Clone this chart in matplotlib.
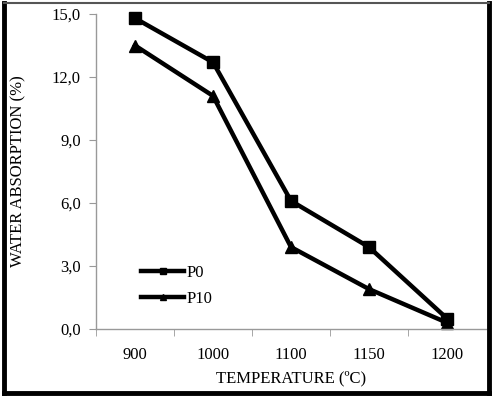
import matplotlib
matplotlib.use("Agg")
import matplotlib.pyplot as plt
from matplotlib.lines import Line2D

categories = ["900", "1000", "1100", "1150", "1200"]
p0 = [14.8, 12.7, 6.1, 3.9, 0.5]
p10 = [13.5, 11.1, 3.9, 1.9, 0.3]
yticks = [0.0, 3.0, 6.0, 9.0, 12.0, 15.0]

plt.rcParams['font.family'] = ['Liberation Serif', 'DejaVu Serif']

W, H = 492, 397
fig = plt.figure(figsize=(W/100, H/100), dpi=100)
ax = fig.add_axes([96/W, 1-329/H, 390/W, 315/H])

x = list(range(1, len(categories)+1))
ax.plot(x, p0, color='black', lw=3.2, marker='s', ms=9, label='P0', clip_on=False)
ax.plot(x, p10, color='black', lw=3.2, marker='^', ms=9, label='P10', clip_on=False)

ax.set_xlim(0.5, len(categories)+0.5)
ax.set_ylim(0, 15)
ax.set_xticks(x)
ax.set_xticklabels(categories)
ax.set_xticks([i+0.5 for i in range(0, len(categories))], minor=True)
ax.tick_params(axis='x', which='major', length=0, pad=13, labelsize=12)
ax.tick_params(axis='x', which='minor', length=5, color='#999999')
ax.set_yticks(yticks)
ax.set_yticklabels([f"{v:.1f}".replace('.', ',') for v in yticks])
ax.tick_params(axis='y', length=5, color='#999999', labelsize=12, pad=6)
for s in ['top', 'right']:
    ax.spines[s].set_visible(False)
for s in ['left', 'bottom']:
    ax.spines[s].set_color('#999999')
    ax.spines[s].set_linewidth(1)

ax.set_ylabel("WATER ABSORPTION (%)", fontsize=12, labelpad=18)
ax.set_xlabel("TEMPERATURE (ºC)", fontsize=12, labelpad=5)

leg = ax.legend(loc='lower left', bbox_to_anchor=(0.098, 0.048), frameon=False,
                fontsize=12, handlelength=2.6, labelspacing=0.6, markerscale=0.5,
                handletextpad=0.15, borderaxespad=0)

# figure border
tf = fig.transFigure
L, R, B, T = 4.0/W, 488.5/W, 1-392.5/H, 1-3/H
fig.add_artist(Line2D([L, L], [B, T], transform=tf, color='black', lw=3.5, solid_capstyle='projecting'))
fig.add_artist(Line2D([R, R], [B, T], transform=tf, color='black', lw=3.5, solid_capstyle='projecting'))
fig.add_artist(Line2D([L, R], [B, B], transform=tf, color='black', lw=3.5, solid_capstyle='projecting'))
fig.add_artist(Line2D([L, R], [T, T], transform=tf, color='#555555', lw=1.5))

fig.savefig("out.png", dpi=100)
